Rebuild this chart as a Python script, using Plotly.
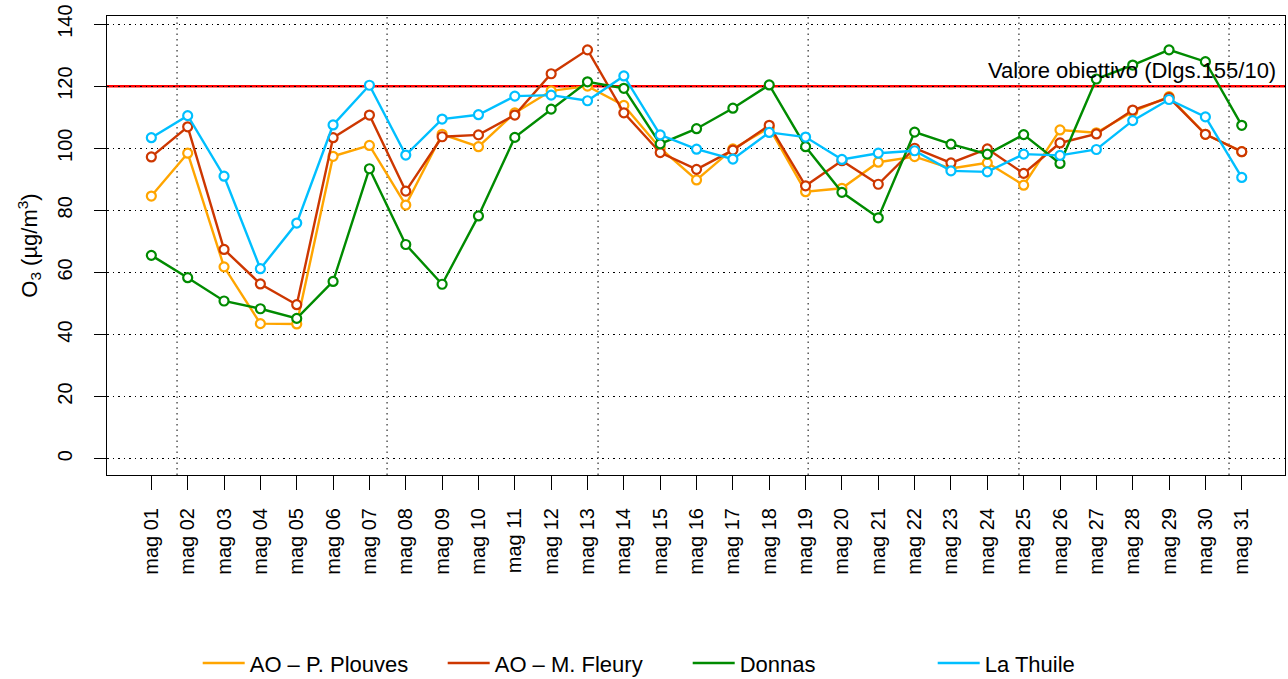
import plotly.graph_objects as go

# ---------------- data ----------------
days = ["mag 01", "mag 02", "mag 03", "mag 04", "mag 05", "mag 06", "mag 07", "mag 08",
        "mag 09", "mag 10", "mag 11", "mag 12", "mag 13", "mag 14", "mag 15", "mag 16",
        "mag 17", "mag 18", "mag 19", "mag 20", "mag 21", "mag 22", "mag 23", "mag 24",
        "mag 25", "mag 26", "mag 27", "mag 28", "mag 29", "mag 30", "mag 31"]

plouves = [84.6, 98.4, 61.8, 43.5, 43.4, 97.4, 100.9, 81.7, 104.5, 100.5, 111.4, 118.5,
           120.0, 113.8, 100.0, 89.8, 99.8, 106.6, 86.0, 87.1, 95.5, 97.3, 93.5, 95.3,
           88.1, 105.9, 105.0, 111.8, 116.6, 104.5, 98.9]
fleury = [97.2, 106.9, 67.4, 56.3, 49.6, 103.4, 110.7, 86.2, 103.7, 104.3, 110.7, 124.0,
          131.7, 111.4, 98.6, 93.2, 99.4, 107.4, 87.9, 96.0, 88.4, 100.0, 95.3, 99.8,
          91.9, 101.7, 104.6, 112.3, 116.3, 104.5, 98.9]
donnas = [65.5, 58.3, 50.8, 48.3, 45.2, 57.1, 93.4, 69.0, 56.2, 78.2, 103.5, 112.6,
          121.4, 119.3, 101.4, 106.3, 112.9, 120.4, 100.5, 85.8, 77.6, 105.2, 101.3, 98.1,
          104.4, 95.1, 122.3, 126.8, 131.7, 127.9, 107.4]
thuile = [103.4, 110.5, 91.0, 61.2, 75.9, 107.5, 120.3, 97.8, 109.4, 110.8, 116.8, 117.1,
          115.3, 123.3, 104.3, 99.7, 96.5, 105.1, 103.6, 96.4, 98.4, 99.2, 92.7, 92.4,
          98.1, 97.7, 99.6, 108.9, 115.7, 110.1, 90.6]

series_names = ["AO \u2013 P. Plouves", "AO \u2013 M. Fleury", "Donnas", "La Thuile"]
series_values = [plouves, fleury, donnas, thuile]
series_colors = ["#FFA500", "#CD3700", "#008B00", "#00BFFF"]

threshold = 120
threshold_label = "Valore obiettivo (Dlgs.155/10)"
y_ticks = [0, 20, 40, 60, 80, 100, 120, 140]
vgrid_x = [1.707, 7.485, 13.29, 19.07, 24.87, 30.65]

x = list(range(1, len(days) + 1))
FONT = "Liberation Sans, Arial, Helvetica, sans-serif"
DOT = "1.5px,4px"

fig = go.Figure()

for name, vals, col in zip(series_names, series_values, series_colors):
    fig.add_trace(go.Scatter(
        x=x, y=vals, mode="lines", name=name,
        line=dict(color=col, width=2.4), showlegend=True, hoverinfo="skip"))
    fig.add_trace(go.Scatter(
        x=x, y=vals, mode="markers", name=name, showlegend=False,
        marker=dict(symbol="circle", size=9, color="white",
                    line=dict(color=col, width=2.2))))

shapes = []
for vx in vgrid_x:
    shapes.append(dict(type="line", xref="x", yref="paper", x0=vx, x1=vx, y0=0, y1=1,
                       line=dict(color="black", width=1, dash=DOT), layer="below"))
shapes.append(dict(type="line", xref="paper", yref="y", x0=0, x1=1, y0=threshold, y1=threshold,
                   line=dict(color="#FF0000", width=2.5), layer="below"))

fig.update_layout(
    width=1288, height=679,
    margin=dict(l=107, r=3, t=16, b=204, autoexpand=False),
    paper_bgcolor="white", plot_bgcolor="white",
    font=dict(family=FONT, color="black", size=20),
    shapes=shapes,
    showlegend=True,
    legend=dict(orientation="h", x=0.077, xanchor="left", y=-0.41, yanchor="middle",
                font=dict(size=22), entrywidth=188, entrywidthmode="pixels",
                itemwidth=42, bgcolor="rgba(0,0,0,0)", tracegroupgap=0),
    annotations=[dict(text=threshold_label, xref="paper", yref="y", x=0.994, y=threshold,
                      xanchor="right", yanchor="bottom", showarrow=False,
                      font=dict(size=22, color="black"), yshift=1)],
    xaxis=dict(range=[-0.22, 32.19], tickmode="array", tickvals=x, ticktext=days,
               tickangle=-90, ticks="outside", ticklen=14, tickcolor="black",
               showline=True, linecolor="black", linewidth=1, mirror=True,
               showgrid=False, zeroline=False, tickfont=dict(size=20),
               ticklabelstandoff=10, automargin=False),
    yaxis=dict(range=[-5.25, 142.6], tickmode="array", tickvals=y_ticks,
               tickangle=-90, ticks="outside", ticklen=12, tickcolor="black",
               showline=True, linecolor="black", linewidth=1, mirror=True,
               showgrid=True, gridcolor="black", griddash=DOT, gridwidth=1,
               zeroline=False, tickfont=dict(size=20), ticklabelstandoff=14,
               automargin=False,
               title=dict(text="O<sub>3</sub> (\u00b5g/m<sup>3</sup>)", font=dict(size=22),
                          standoff=10)),
)

fig.write_html("out.html", include_plotlyjs=True, config={"displayModeBar": False},
               post_script="document.body.style.margin='0';")
